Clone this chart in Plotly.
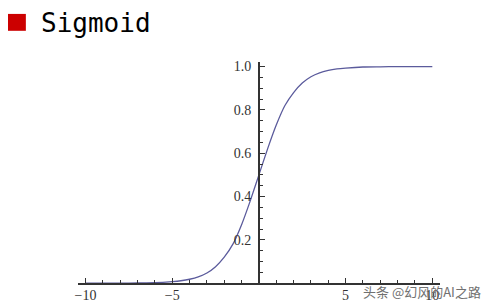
import plotly.graph_objects as go

W, H = 488, 305

# Values
x_vals = [-10, -9, -8, -7, -6, -5, -4.5, -4, -3.5, -3, -2.5, -2, -1.5, -1, -0.5,
          0, 0.5, 1, 1.5, 2, 2.5, 3, 3.5, 4, 4.5, 5, 6, 7, 8, 9, 10]
y_vals = [0.000, 0.000, 0.000, 0.001, 0.002, 0.007, 0.011, 0.018, 0.029, 0.047, 0.076,
          0.12, 0.18, 0.27, 0.38, 0.50, 0.62, 0.73, 0.82, 0.88, 0.924, 0.953, 0.971,
          0.982, 0.989, 0.993, 0.998, 0.999, 1.0, 1.0, 1.0]

x_major = [-10, -5, 5, 10]
x_major_text = ["\u221210", "\u22125", "5", "10"]
x_minor = list(range(-10, 11))
y_major = [0.2, 0.4, 0.6, 0.8, 1.0]
y_major_text = ["0.2", "0.4", "0.6", "0.8", "1.0"]
y_minor = [i * 0.05 for i in range(0, 21)]

title_text = "Sigmoid"
watermark = "头条 @幻风的AI之路"

# layout geometry (pixels)
x_left_px, x_right_px = 75, 440
x_range = [-10.46, 10.46]
y_bottom_px, y_top_px = 283, 60
y_range = [0, (y_bottom_px - y_top_px) / 218.0]

x_dom = [x_left_px / W, x_right_px / W]
y_dom = [(H - y_bottom_px) / H, (H - y_top_px) / H]
zero_px = x_left_px + (0 - x_range[0]) / (x_range[1] - x_range[0]) * (x_right_px - x_left_px)

fig = go.Figure()
fig.add_trace(go.Scatter(
    x=x_vals, y=y_vals, mode="lines",
    line=dict(color="#5b5b9c", width=1.3, shape="spline", smoothing=0.6),
    hoverinfo="skip", showlegend=False,
))

tick_font = dict(family="Liberation Serif, Times New Roman, serif", size=14, color="#333333")

fig.update_layout(
    width=W, height=H,
    margin=dict(l=0, r=0, t=0, b=0),
    paper_bgcolor="white", plot_bgcolor="white",
    showlegend=False,
    xaxis=dict(
        domain=x_dom, range=x_range, showgrid=False, zeroline=False,
        showline=True, linecolor="#333333", linewidth=2,
        tickmode="array", tickvals=x_major, ticktext=x_major_text,
        ticks="inside", ticklen=5, tickwidth=1, tickcolor="#333333",
        tickfont=tick_font, ticklabelstandoff=-2,
        minor=dict(tickmode="array", tickvals=x_minor, ticks="inside",
                   ticklen=3, tickwidth=1, tickcolor="#333333", showgrid=False),
        anchor="y", fixedrange=True,
    ),
    yaxis=dict(
        domain=y_dom, range=y_range, showgrid=False, zeroline=False,
        showline=True, linecolor="#333333", linewidth=1.5,
        tickmode="array", tickvals=y_major, ticktext=y_major_text,
        ticks="inside", ticklen=5, tickwidth=1, tickcolor="#333333",
        tickfont=tick_font, ticklabelstandoff=4,
        minor=dict(tickmode="array", tickvals=y_minor, ticks="inside",
                   ticklen=3, tickwidth=1, tickcolor="#333333", showgrid=False),
        anchor="free", position=zero_px / W, fixedrange=True,
    ),
    shapes=[dict(type="rect", xref="paper", yref="paper",
                 x0=5 / W, x1=23 / W, y0=1 - 29 / H, y1=1 - 12 / H,
                 fillcolor="#cc0000", line=dict(width=0))],
    annotations=[
        dict(text=title_text, xref="paper", yref="paper", x=36 / W, y=1 - 21 / H,
             xanchor="left", yanchor="middle", showarrow=False,
             font=dict(family="DejaVu Sans Mono", size=26, color="#000000")),
        dict(text=watermark, xref="paper", yref="paper", x=360 / W, y=1 - 291 / H,
             xanchor="left", yanchor="middle", showarrow=False,
             font=dict(family="Noto Sans CJK SC", size=13, color="#707070")),
    ],
)

fig.write_html("out.html")
